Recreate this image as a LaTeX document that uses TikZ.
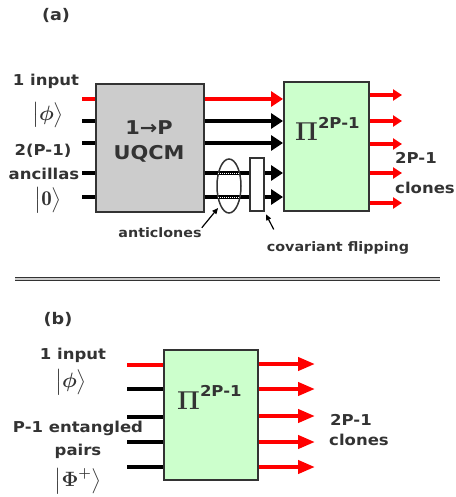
\documentclass[tikz,border=0pt]{standalone}
\usepackage{amsmath}
\usepackage{amssymb}
\usepackage{bm}
\usepackage{fontspec}
\usetikzlibrary{arrows.meta, positioning, shapes.geometric, calc}
\newfontfamily\lblfont{DejaVu Sans}[FakeStretch=1.1]
\definecolor{boxgray}{RGB}{204,204,204}
\definecolor{boxgreen}{RGB}{204,255,204}
\definecolor{inkgray}{RGB}{51,51,51}
\newcommand{\projlbl}{\scalebox{1.25}{$\bm{\Pi}$}\raisebox{13pt}{\lblfont\bfseries\fontsize{15}{17}\selectfont 2P-1}}

\begin{document}
\begin{tikzpicture}[
  x=1pt, y=-1pt,
  wire/.style  = {line width=4pt},
  gate/.style  = {draw=inkgray, line width=1.6pt, rectangle, inner sep=0pt, anchor=north west},
  lbl/.style   = {font=\lblfont\bfseries\fontsize{15}{17}\selectfont, text=inkgray, inner sep=0pt},
  small/.style = {lbl, font=\lblfont\bfseries\fontsize{13}{15}\selectfont},
  title/.style = {lbl, font=\lblfont\bfseries\fontsize{16}{19}\selectfont},
  ket/.style   = {font=\fontsize{21}{24}\selectfont, text=inkgray, inner sep=0pt},
  proj/.style  = {font=\fontsize{20}{24}\selectfont, text=inkgray, inner sep=0pt, anchor=base west},
  note/.style  = {line width=1.2pt, -{Triangle[length=6pt,width=5pt]}, shorten >=3pt},
  bigtip/.style = {-{Triangle[length=12pt,width=15pt]}},
]
  \useasboundingbox (0,0) rectangle (455,497);

  % (a) boxes
  \node[title] (tita) at (56,15) {(a)};
  \node[gate, fill=boxgray, minimum width=108pt, minimum height=128pt] (uqcm) at (95,83) {};
  \node[lbl, font=\lblfont\bfseries\fontsize{19}{25}\selectfont, align=center] (uqcmtxt) at (149,141) {1→P\\UQCM};
  \node[gate, fill=boxgreen, minimum width=85pt, minimum height=129pt] (pia) at (283,81) {};
  \node[proj] (piatxt) at (295,141) {\projlbl};

  % (a) wires into and out of the cloning machine
  \foreach \i/\y/\c in {1/99/red, 2/121/black, 3/143/black, 4/173/black, 5/197/black} {
    \coordinate (ain\i) at (82,\y);
    \draw[wire, \c] (ain\i) -- (ain\i -| uqcm.west);
    \draw[wire, \c, bigtip] (ain\i -| uqcm.east) -- (ain\i -| pia.west);
  }
  \foreach \i/\y in {1/95, 2/121, 3/144, 4/173, 5/203} {
    \coordinate (aout\i) at (402,\y);
    \draw[wire, red, -{Triangle[length=9pt,width=11pt]}] (aout\i -| pia.east) -- (aout\i);
  }

  % anticlones and flipping
  \node[draw=inkgray, line width=1.5pt, ellipse, inner sep=0pt,
        minimum width=24pt, minimum height=54pt] (anti) at (229,186) {};
  \foreach \i in {4,5}
    \draw[white, line width=1pt, dash pattern=on 1pt off 1pt]
      ($(anti.west |- ain\i)+(2,0)$) -- ($(anti.east |- ain\i)+(-2,0)$);
  \node[gate, fill=white, minimum width=14pt, minimum height=53pt] (flip) at (249,157) {};

  % (a) labels
  \node[lbl] (ainlbl)  at (46,81)  {1 input};
  \node[ket] (aphi)    at (48,115) {$\bigl\lvert\bm{\phi}\bigr\rangle$};
  \node[lbl] (ancnum)  at (43,151) {2(P-1)};
  \node[lbl] (anclbl)  at (44,174) {ancillas};
  \node[ket] (azero)   at (48,200) {$\bigl\lvert\mathbf{0}\bigr\rangle$};
  \node[lbl] (aclones) at (416,158) {2P-1};
  \node[lbl] (aclone2) at (425,188) {clones};
  \node[small] (anticl) at (160,233) {anticlones};
  \node[small] (covfl)  at (338,248) {covariant flipping};
  \draw[note] (anticl.north east) -- (anti.south west);
  \draw[note] ($(covfl.north west)+(7,-12)$) -- (flip.south east);

  % separator
  \coordinate (sepl) at (15,279);
  \coordinate (sepr) at (440,279);
  \draw[inkgray, line width=0.9pt, double=boxgray, double distance=2.5pt] (sepl) -- (sepr);

  % (b)
  \node[title] (titb) at (58,319) {(b)};
  \node[gate, fill=boxgreen, minimum width=94pt, minimum height=130pt] (pib) at (163,349) {};
  \node[proj] (pibtxt) at (177,409) {\projlbl};
  \foreach \i/\y/\c in {1/365/red, 2/389/black, 3/417/black, 4/442/black, 5/467/black} {
    \coordinate (bin\i) at (127,\y);
    \draw[wire, \c] (bin\i) -- (bin\i -| pib.west);
  }
  \foreach \i/\y in {1/364, 2/389, 3/416, 4/442, 5/467} {
    \coordinate (bout\i) at (315,\y);
    \draw[wire, red, -{Triangle[length=17pt,width=13pt]}] (bout\i -| pib.east) -- (bout\i);
  }
  \node[lbl] (binlbl)  at (73,355) {1 input};
  \node[ket] (bphi)    at (71,382) {$\bigl\lvert\bm{\phi}\bigr\rangle$};
  \node[lbl] (bpairs)  at (78,428) {P-1 entangled};
  \node[lbl] (bpair2)  at (78,451) {pairs};
  \node[ket] (bbell)   at (78,481) {$\bigl\lvert\bm{\Phi}^{\bm{+}}\bigr\rangle$};
  \node[lbl] (bclones) at (351,420) {2P-1};
  \node[lbl] (bclone2) at (359,440) {clones};
\end{tikzpicture}
\end{document}
